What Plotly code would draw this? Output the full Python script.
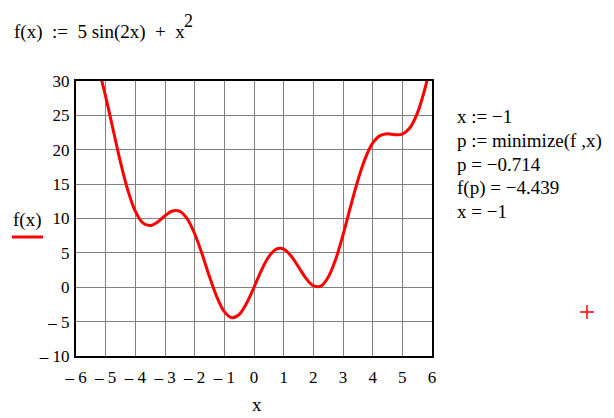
import plotly.graph_objects as go

# data
x_vals = [-6, -5.75, -5.5, -5.25, -5, -4.75, -4.5, -4.25, -4, -3.75, -3.5, -3.25, -3,
          -2.75, -2.5, -2.25, -2, -1.75, -1.5, -1.25, -1, -0.75, -0.5, -0.25, 0,
          0.25, 0.5, 0.75, 1, 1.25, 1.5, 1.75, 2, 2.25, 2.5, 2.75, 3, 3.25, 3.5,
          3.75, 4, 4.25, 4.5, 4.75, 5, 5.25, 5.5, 5.75, 6]
f_vals = [38.68, 37.44, 35.25, 31.96, 27.72, 22.94, 18.19, 14.07, 11.05, 9.37, 8.97, 9.49, 10.40,
          11.09, 11.05, 9.95, 7.78, 4.82, 1.54, -1.43, -3.55, -4.42, -3.96, -2.33, 0.0,
          2.46, 4.46, 5.55, 5.55, 4.55, 2.96, 1.31, 0.22, 0.17, 1.46, 4.03, 7.60, 11.64, 15.53,
          18.75, 20.95, 22.05, 22.31, 22.19, 22.28, 23.16, 25.25, 28.69, 33.32]
x_ticks = [-6, -5, -4, -3, -2, -1, 0, 1, 2, 3, 4, 5, 6]
x_tick_text = ["\u2013 6", "\u2013 5", "\u2013 4", "\u2013 3", "\u2013 2", "\u2013 1",
               "0", "1", "2", "3", "4", "5", "6"]
y_ticks = [-10, -5, 0, 5, 10, 15, 20, 25, 30]
y_tick_text = ["\u2013 10", "\u2013 5", "0", "5", "10", "15", "20", "25", "30"]
side_lines = ["x := \u22121", "p := minimize(f ,x)", "p = \u22120.714",
              "f(p) = \u22124.439", "x = \u22121"]

OFF = 8  # page body margin
W, H = 614 - OFF, 418 - OFF
L, R, T, B = 76 - OFF, 432 - OFF, 81 - OFF, 356 - OFF
FONT = "Liberation Serif, Times New Roman, serif"
NB2 = "\u00a0\u00a0"


def px(xp):
    return (xp - OFF - L) / (R - L)


def py(yp):
    return (B - (yp - OFF)) / (B - T)


fig = go.Figure()
fig.add_trace(go.Scatter(x=x_vals, y=f_vals, mode="lines",
                         line=dict(color="#ff0000", width=3, shape="spline"),
                         hoverinfo="skip"))

axis_common = dict(showline=True, linecolor="black", linewidth=2, mirror=True,
                   showgrid=True, gridcolor="#808080", gridwidth=1,
                   zeroline=False, ticks="",
                   tickfont=dict(family=FONT, size=17, color="black"))
fig.update_xaxes(range=[-6, 6], tickvals=x_ticks, ticktext=x_tick_text,
                 ticklabelstandoff=5, **axis_common)
fig.update_yaxes(range=[-10, 30], tickvals=y_ticks, ticktext=y_tick_text,
                 ticklabelstandoff=1, **axis_common)

ann = []
formula = "f(x)" + NB2 + ":=" + NB2 + "5\u00a0sin(2x)" + NB2 + "+" + NB2 + "x"
ann.append(dict(x=px(12), y=py(32), xref="paper", yref="paper", xanchor="left", yanchor="middle",
                text=formula, showarrow=False,
                font=dict(family=FONT, size=19, color="black")))
ann.append(dict(x=px(182), y=py(21), xref="paper", yref="paper", xanchor="left", yanchor="middle",
                text="2", showarrow=False, font=dict(family=FONT, size=18, color="black")))
for i, s in enumerate(side_lines):
    ann.append(dict(x=px(455), y=py(117 + i * 23.7), xref="paper", yref="paper",
                    xanchor="left", yanchor="middle", text=s, showarrow=False,
                    font=dict(family=FONT, size=19, color="black")))
ann.append(dict(x=px(11), y=py(220), xref="paper", yref="paper", xanchor="left", yanchor="middle",
                text="f(x)", showarrow=False, font=dict(family=FONT, size=19, color="black")))
ann.append(dict(x=px(257), y=py(404), xref="paper", yref="paper", xanchor="center", yanchor="middle",
                text="x", showarrow=False, font=dict(family=FONT, size=19, color="black")))

shapes = [
    dict(type="line", xref="paper", yref="paper", x0=px(12), x1=px(43), y0=py(237), y1=py(237),
         line=dict(color="#ff0000", width=3)),
    dict(type="line", xref="paper", yref="paper", x0=px(580), x1=px(594), y0=py(312), y1=py(312),
         line=dict(color="#ff0000", width=1.5)),
    dict(type="line", xref="paper", yref="paper", x0=px(587), x1=px(587), y0=py(305), y1=py(319),
         line=dict(color="#ff0000", width=1.5)),
]

fig.update_layout(width=W, height=H, margin=dict(l=L, r=W - R, t=T, b=H - B),
                  paper_bgcolor="white", plot_bgcolor="white", showlegend=False,
                  annotations=ann, shapes=shapes)

fig.write_html("out.html")
